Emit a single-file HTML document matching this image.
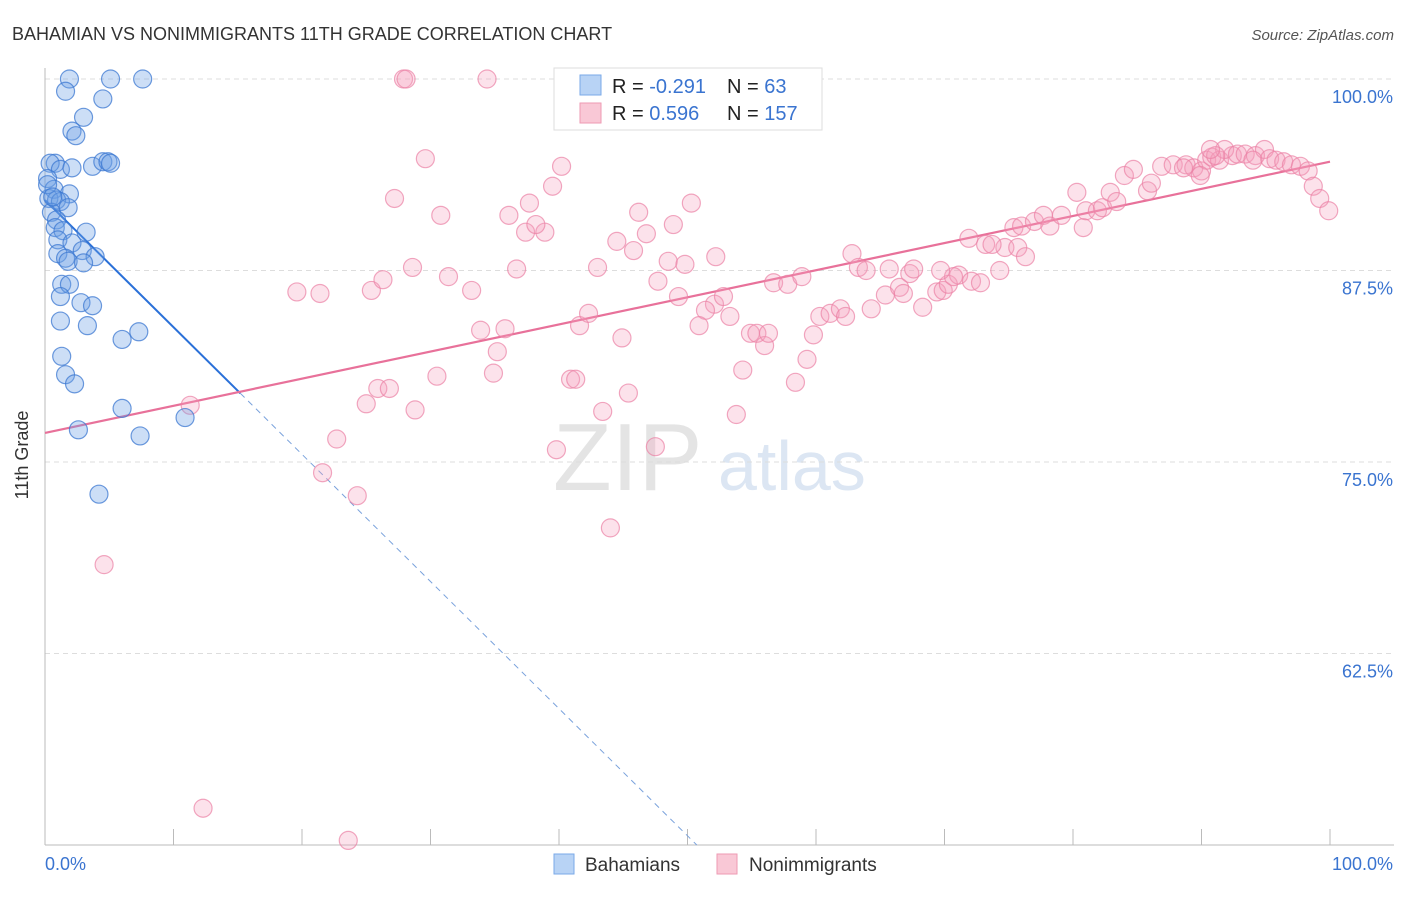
<!DOCTYPE html>
<html><head><meta charset="utf-8"><style>
body{margin:0;background:#fff;font-family:"Liberation Sans",sans-serif;}
svg text{font-family:"Liberation Sans",sans-serif;}
</style></head><body>
<svg id="chart" width="1406" height="892" xmlns="http://www.w3.org/2000/svg">
<text x="12" y="40" font-size="18" fill="#333">BAHAMIAN VS NONIMMIGRANTS 11TH GRADE CORRELATION CHART</text>
<text x="1394" y="40" font-size="15" fill="#555" text-anchor="end" font-style="italic">Source: ZipAtlas.com</text>
<g><text x="553" y="490" font-size="96" fill="#e4e4e4" font-family="Liberation Serif">ZIP</text><text x="718" y="490" font-size="70" fill="#dce6f3">atlas</text></g>
<g id="grid"></g><g id="axes"></g><g id="lines"></g><g id="pts"></g>
<text x="28" y="455" font-size="18" fill="#333" text-anchor="middle" transform="rotate(-90 28 455)">11th Grade</text>
<g>
<rect x="554" y="68" width="268" height="62" fill="#fff" stroke="#ddd"/>
<rect x="580" y="75" width="21" height="20" fill="#b8d3f5" stroke="#7aa9e8"/>
<rect x="580" y="103" width="21" height="20" fill="#f9c8d6" stroke="#ee9ab3"/>
<text x="612" y="93" font-size="20" fill="#222">R = <tspan fill="#3a74d0">-0.291</tspan></text>
<text x="727" y="93" font-size="20" fill="#222">N = <tspan fill="#3a74d0">  63</tspan></text>
<text x="612" y="120" font-size="20" fill="#222">R = <tspan fill="#3a74d0"> 0.596</tspan></text>
<text x="727" y="120" font-size="20" fill="#222">N = <tspan fill="#3a74d0">157</tspan></text>
</g>
<g>
<rect x="554" y="854" width="20" height="20" fill="#b8d3f5" stroke="#7aa9e8"/>
<text x="585" y="871" font-size="19" fill="#333">Bahamians</text>
<rect x="717" y="854" width="20" height="20" fill="#f9c8d6" stroke="#ee9ab3"/>
<text x="749" y="871" font-size="19" fill="#333">Nonimmigrants</text>
</g>
</svg>
<script>
const yTicks=[100,87.5,75,62.5];
const yTickLabels=["100.0%","87.5%","75.0%","62.5%"];
const xTickLabels=["0.0%","100.0%"];
const blueX=[1.9,5.1,7.6,1.6,4.5,3.0,2.1,2.4,0.8,0.4,1.2,2.1,3.7,4.5,4.9,5.1,0.2,0.7,1.9,0.3,0.9,1.2,0.5,1.8,0.9,0.8,1.4,3.2,1.0,2.1,1.0,2.9,3.9,1.6,1.8,3.0,1.3,1.9,1.2,2.8,3.7,1.2,3.3,6.0,7.3,1.3,1.6,2.3,6.0,10.9,2.6,7.4,4.2,0.2,0.6];
const blueY=[100,100,100,99.2,98.7,97.5,96.6,96.3,94.5,94.5,94.1,94.2,94.3,94.6,94.6,94.5,93.5,92.8,92.5,92.2,92.1,92.0,91.3,91.6,90.8,90.3,90.1,90.0,89.5,89.3,88.6,88.8,88.4,88.3,88.1,88.0,86.6,86.6,85.8,85.4,85.2,84.2,83.9,83.0,83.5,81.9,80.7,80.1,78.5,77.9,77.1,76.7,72.9,93.1,92.3];
const pinkX=[19.6,21.4,25.4,26.3,28.6,31.4,33.2,27.2,30.8,29.6,27.9,28.1,34.4,33.9,35.8,35.2,34.9,30.5,28.8,25.9,26.8,25.0,22.7,21.6,24.3,11.3,4.6,12.3,23.6,36.7,36.1,37.7,37.4,38.9,38.2,39.5,40.2,41.6,42.3,43.0,44.5,45.8,46.8,46.2,48.9,50.3,48.5,49.8,47.7,49.3,52.1,51.4,52.8,52.2,44.9,40.9,41.3,45.4,43.4,39.8,47.5,44.0,50.9,53.3,54.9,55.4,56.0,56.3,54.3,53.8,58.4,59.3,59.8,56.7,57.8,58.9,60.3,61.1,61.9,62.3,62.8,63.3,63.9,65.7,64.3,65.4,66.5,67.3,66.8,67.6,68.3,69.4,69.9,70.3,71.1,70.7,72.1,72.8,74.3,74.7,75.7,76.3,69.7,71.9,73.2,73.7,75.4,76.0,77.0,77.7,78.2,79.1,80.8,80.3,81.0,81.9,82.3,82.9,83.4,84.0,84.7,85.8,86.1,86.9,87.8,88.8,89.4,90.0,90.4,90.8,91.4,92.4,91.8,92.8,93.4,94.2,94.9,95.3,95.8,96.4,97.0,97.7,98.3,98.7,99.2,99.9,91.1,89.9,90.7,94.0,88.6];
const pinkY=[86.1,86.0,86.2,86.9,87.7,87.1,86.2,92.2,91.1,94.8,100,100,100,83.6,83.7,82.2,80.8,80.6,78.4,79.8,79.8,78.8,76.5,74.3,72.8,78.7,68.3,52.4,50.3,87.6,91.1,91.9,90.0,90.0,90.5,93.0,94.3,83.9,84.7,87.7,89.4,88.8,89.9,91.3,90.5,91.9,88.1,87.9,86.8,85.8,85.3,84.9,85.8,88.4,83.1,80.4,80.4,79.5,78.3,75.8,76.0,70.7,83.9,84.5,83.4,83.4,82.6,83.4,81.0,78.1,80.2,81.7,83.3,86.7,86.6,87.1,84.5,84.7,85.0,84.5,88.6,87.7,87.5,87.6,85.0,85.9,86.4,87.3,86.0,87.6,85.1,86.1,86.2,86.6,87.2,87.1,86.8,86.7,87.5,89.0,89.0,88.4,87.5,89.6,89.2,89.2,90.3,90.4,90.7,91.1,90.4,91.1,90.3,92.6,91.4,91.4,91.6,92.6,92.0,93.7,94.1,92.7,93.2,94.3,94.4,94.4,94.2,94.0,94.7,94.9,94.7,95.0,95.4,95.1,95.1,95.0,95.4,94.8,94.7,94.6,94.4,94.3,94.0,93.0,92.2,91.4,95.0,93.7,95.4,94.7,94.2];
const blueTrend=[92.1,-0.83];
const pinkTrend=[76.9,0.177];
const NS="http://www.w3.org/2000/svg";
const X0=45,X1=1330,Y100=79,PPU=15.32;
function sx(v){return X0+(X1-X0)*v/100;}
function sy(v){return Y100+(100-v)*PPU;}
function mk(parent,tag,attrs){const e=document.createElementNS(NS,tag);for(const k in attrs)e.setAttribute(k,attrs[k]);document.getElementById(parent).appendChild(e);return e;}
yTicks.forEach((t,i)=>{
  const g=mk('grid','line',{x1:X0,x2:1394,y1:sy(t),y2:sy(t),stroke:'#ddd','stroke-dasharray':'5,4'});
  
  
  const l=mk('axes','text',{x:1393,y:sy(t)+24,'font-size':18,fill:'#3a74d0','text-anchor':'end'});
  l.textContent=yTickLabels[i];
  
  
});
const ax=mk('axes','line',{x1:X0,x2:1394,y1:845,y2:845,stroke:'#bbb'});


const ay=mk('axes','line',{x1:X0,x2:X0,y1:68,y2:845,stroke:'#bbb'});


for(let i=1;i<=10;i++){
  const t=mk('axes','line',{x1:sx(i*10),x2:sx(i*10),y1:829,y2:845,stroke:'#bbb'});
  
  
}
[[0,'start',45],[100,'end',1393]].forEach((d,i)=>{
  const l=mk('axes','text',{x:d[2],y:870,'font-size':18,fill:'#3a74d0','text-anchor':d[1]});
  l.textContent=xTickLabels[i];
  
  
});
pinkX.forEach((x,i)=>{
  const c=mk('pts','circle',{cx:sx(x),cy:sy(pinkY[i]),r:9,fill:'rgba(244,160,188,0.3)',stroke:'rgba(235,130,165,0.7)','stroke-width':1.2});
  
  
});
blueX.forEach((x,i)=>{
  const c=mk('pts','circle',{cx:sx(x),cy:sy(blueY[i]),r:9,fill:'rgba(110,160,230,0.35)',stroke:'rgba(60,120,210,0.75)','stroke-width':1.2});
  
  
});
const bEnd=15.2, bZero=(blueTrend[0]-50)/-blueTrend[1];
const bl=mk('lines','line',{x1:sx(0),y1:sy(blueTrend[0]),x2:sx(bEnd),y2:sy(blueTrend[0]+blueTrend[1]*bEnd),stroke:'#2a70d8','stroke-width':2});


const bd=mk('lines','line',{x1:sx(bEnd),y1:sy(blueTrend[0]+blueTrend[1]*bEnd),x2:sx(bZero),y2:sy(50),stroke:'#7aa2dc','stroke-width':1,'stroke-dasharray':'6,5'});


const pl=mk('lines','line',{x1:sx(0),y1:sy(pinkTrend[0]),x2:sx(100),y2:sy(pinkTrend[0]+pinkTrend[1]*100),stroke:'#e8719a','stroke-width':2.2});


</script>
</body></html>
